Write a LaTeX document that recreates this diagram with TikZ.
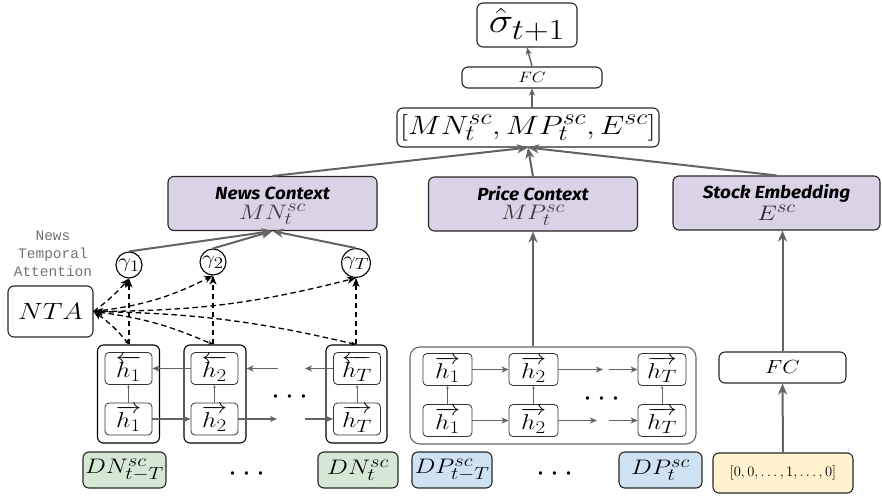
\RequirePackage{fix-cm}
\documentclass[tikz,border=0pt]{standalone}
\usepackage{fontspec}
\usepackage{graphicx}
\usetikzlibrary{arrows.meta,calc}
\newfontfamily\headfont{Fira Sans}
\newfontfamily\notefont{Liberation Mono}
\definecolor{boxpurple}{HTML}{DAD3E8}
\definecolor{boxgreen}{HTML}{D5E8D4}
\definecolor{boxblue}{HTML}{CFE2F3}
\definecolor{boxyellow}{HTML}{FFF2CC}
\definecolor{linegray}{HTML}{636363}
\definecolor{mathgray}{HTML}{3C3C3C}
\newcommand{\fs}[1]{\fontsize{#1}{#1}\selectfont}
% wide setting of the formulas
\newcommand{\wide}[1]{\scalebox{1.18}[1]{#1}}
% larger scripts, as in the big display sizes
\renewcommand{\defaultscriptratio}{.83}
\renewcommand{\defaultscriptscriptratio}{.7}

\begin{document}
\begin{tikzpicture}[x=1pt,y=-1pt,
  box/.style={draw=black!85, line width=1.1pt, rounded corners=6pt, inner sep=0pt, align=center},
  ctx/.style={box, fill=boxpurple, minimum width=209pt, minimum height=54pt},
  datum/.style={box, minimum height=36pt},
  cell/.style={draw=black!80, line width=0.8pt, rounded corners=4pt, minimum width=47pt,
               minimum height=32pt, inner sep=0pt, font=\fs{21.5}},
  stack/.style={draw=black, line width=1.1pt, rounded corners=6pt, minimum width=62pt,
                minimum height=98pt, inner sep=0pt},
  gate/.style={circle, draw=black, line width=1.1pt, minimum size=26pt, inner sep=0pt, font=\fs{19.5}},
  flow/.style={draw=linegray, line width=2pt, -{Stealth[length=11pt,width=9pt,inset=3.5pt]}},
  link/.style={draw=linegray, line width=1.5pt, -{Stealth[length=7pt,width=6pt,inset=2pt]}},
  thin/.style={draw=linegray, line width=0.6pt, -{Stealth[length=3pt,width=2.5pt]}},
  att/.style={draw=black, line width=1.3pt, dash pattern=on 5.5pt off 3.5pt,
              -{Stealth[length=9pt,width=7pt,inset=2.5pt]}},
  attboth/.style={draw=black, line width=1.3pt, dash pattern=on 5.5pt off 3.5pt,
              {Stealth[length=9pt,width=7pt,inset=2.5pt]}-{Stealth[length=5pt,width=4pt]}},
  dots/.style={font=\fs{32}},
  title/.style={font=\headfont\bfseries\itshape\fs{17.5}}
]
\useasboundingbox (0,0) rectangle (882,495);

% ---------- output head ----------
\node[box, minimum width=100pt, minimum height=44pt] (out) at (527,25) {\fs{35}\wide{$\hat{\sigma}_{t+1}$}};
\node[box, minimum width=140pt, minimum height=21pt] (fctop) at (532,77.5) {\fs{15}\wide{$FC$}};
\node[box, minimum width=262pt, minimum height=39pt] (cat) at (528,127.5)
  {\fs{26.5}\wide{$[MN_t^{sc},MP_t^{sc},E^{sc}]$}};

% ---------- context vectors ----------
\node[ctx] (mn) at (272.5,203.5) {};
\node[ctx] (mp) at (533,204) {};
\node[ctx, minimum width=207pt] (se) at (776.5,203) {};
\node[title] (mnt) at ([yshift=10pt]mn.center) {\scalebox{1.08}[1]{News Context}};
\node[title] (mpt) at ([yshift=10pt]mp.center) {\scalebox{1.08}[1]{Price Context}};
\node[title] (set) at ([yshift=10pt]se.center) {\scalebox{1.08}[1]{Stock Embedding}};
\node[text=mathgray, font=\fs{21}] (mnm) at ([yshift=-11pt]mn.center) {\wide{$MN_t^{sc}$}};
\node[text=mathgray, font=\fs{21}] (mpm) at ([yshift=-11pt]mp.center) {\wide{$MP_t^{sc}$}};
\node[text=black!85, font=\fs{21}] (sem) at ([yshift=-10pt]se.center) {\wide{$E^{sc}$}};

% ---------- news temporal attention ----------
\node[font=\notefont\fontsize{14.5}{18}\selectfont, text=black!55, align=center] (ntalabel) at (53,254)
  {News\\Temporal\\Attention};
\node[box, minimum width=85pt, minimum height=51pt] (nta) at (50.5,311.5) {\fs{23.5}\wide{$NTA$}};

\node[gate] (g1) at (129,265) {\wide{$\gamma_1$}};
\node[gate] (g2) at (213,262) {\wide{$\gamma_2$}};
\node[gate] (gT) at (356,263) {\wide{$\gamma_T$}};

% news bi-directional LSTM cells
\node[stack] (s1) at (128.5,394) {};
\node[stack] (s2) at (215,394) {};
\node[stack, minimum width=61pt] (sT) at (356.5,394) {};
\node[cell] (nb1) at (128.5,368.5) {\wide{$\overleftarrow{h_1}$}};
\node[cell] (nf1) at (128.5,419) {\wide{$\overrightarrow{h_1}$}};
\node[cell] (nb2) at (214.5,368.5) {\wide{$\overleftarrow{h_2}$}};
\node[cell] (nf2) at (214.5,419) {\wide{$\overrightarrow{h_2}$}};
\node[cell] (nbT) at (357,368.5) {\wide{$\overleftarrow{h_T}$}};
\node[cell] (nfT) at (357,419) {\wide{$\overrightarrow{h_T}$}};
\node[dots] (ndots) at (290,397) {$\cdots$};

\node[datum, fill=boxgreen, minimum width=83pt] (dn1) at (124.5,470) {\fs{21}\wide{$DN^{sc}_{t-T}$}};
\node[datum, fill=boxgreen, minimum width=80pt] (dnT) at (358,470) {\fs{21}\wide{$DN^{sc}_{t}$}};
\node[dots] (dndots) at (247,474) {$\cdots$};

% ---------- price LSTM ----------
\node[draw=black!60, line width=1.1pt, rounded corners=10pt, minimum width=286pt, minimum height=97pt] (pbox) at (553,395.5) {};
\node[cell, minimum width=49pt] (pb1) at (447.5,369.5) {\wide{$\overrightarrow{h_1}$}};
\node[cell, minimum width=49pt] (pf1) at (447.5,420.5) {\wide{$\overrightarrow{h_1}$}};
\node[cell, minimum width=49pt] (pb2) at (533.5,369.5) {\wide{$\overrightarrow{h_2}$}};
\node[cell, minimum width=49pt] (pf2) at (533.5,420.5) {\wide{$\overrightarrow{h_2}$}};
\node[cell, minimum width=48pt] (pbT) at (662,369.5) {\wide{$\overrightarrow{h_T}$}};
\node[cell, minimum width=48pt] (pfT) at (662,420.5) {\wide{$\overrightarrow{h_T}$}};
\node[dots] (pdots) at (602,399) {$\cdots$};

\node[datum, fill=boxblue, minimum width=80pt] (dp1) at (452,470) {\fs{21}\wide{$DP^{sc}_{t-T}$}};
\node[datum, fill=boxblue, minimum width=83pt] (dpT) at (660.5,470) {\fs{21}\wide{$DP^{sc}_{t}$}};
\node[dots] (dpdots) at (555,474) {$\cdots$};

% ---------- stock embedding ----------
\node[box, minimum width=127pt, minimum height=31pt] (fcse) at (782.5,367.5) {\fs{19}\wide{$FC$}};
\node[box, fill=boxyellow, minimum width=140pt, minimum height=40pt] (onehot) at (783,473) {\fs{14.5}$[0,0,\ldots,1,\ldots,0]$};

% ---------- connectors: head ----------
\draw[link] (fctop.north) -- (out.south);
\draw[link] (cat.north -| fctop) -- (fctop.south);
\draw[flow] (mn.north) -- (cat.south);
\draw[flow] (mp.north) -- (cat.south);
\draw[flow] (se.north) -- (cat.south);

\draw[flow] (g1.north) -- (mn.south);
\draw[flow] (g2.north) -- (mn.south);
\draw[flow] (gT.north) -- (mn.south);

\draw[flow] (pbox.north -| mp) -- (mp.south);
\draw[flow] (onehot.north) -- (fcse.south);
\draw[flow] (fcse.north) -- (fcse.north |- se.south);

% ---------- connectors: news LSTM ----------
\coordinate (nbgapR) at (278,368.5);
\coordinate (nbgapL) at (305,368.5);
\coordinate (nfgapL) at (277,419);
\coordinate (nfgapR) at (305,419);
\draw[link] (nb2.west) -- (nb1.east);
\draw[link] (nbgapR) -- (s2.east |- nb2);
\draw[link] (nbT.west) -- (nbgapL);
\draw[link] (nf1.east) -- (nf2.west);
\draw[link] (nf2.east) -- (nfgapL);
\draw[link] (nfgapR) -- (nfT.west);
\foreach \c in {1,2,T} \draw[thin] (nf\c.north) -- (nb\c.south);

% ---------- connectors: price LSTM ----------
\coordinate (pbgapL) at (603,369.5);
\coordinate (pbgapR) at (609,369.5);
\coordinate (pfgapL) at (597,420.5);
\coordinate (pfgapR) at (609,420.5);
\draw[link] (pb1.east) -- (pb2.west);
\draw[link] (pb2.east) -- (pbgapL);
\draw[link] (pbgapR) -- (pbT.west);
\draw[link] (pf1.east) -- (pf2.west);
\draw[link] (pf2.east) -- (pfgapL);
\draw[link] (pfgapR) -- (pfT.west);
\foreach \c in {1,2,T} \draw[thin] (pf\c.north) -- (pb\c.south);

% ---------- temporal attention ----------
\foreach \c in {1,2,T} \draw[att] (s\c.north -| g\c) -- (g\c.south);
\draw[attboth] (nta.east) to[bend left=8] (s1.north -| g1);
\draw[attboth] (nta.east) to[bend left=8] (s2.north -| g2);
\draw[attboth] (nta.east) to[bend left=6] (sT.north -| gT);
\draw[att] (nta.east) to[bend right=6] (g1.south);
\draw[att] (nta.east) to[bend right=10] (g2.south);
\draw[att] (nta.east) to[bend right=7] (gT.south);
\end{tikzpicture}
\end{document}
